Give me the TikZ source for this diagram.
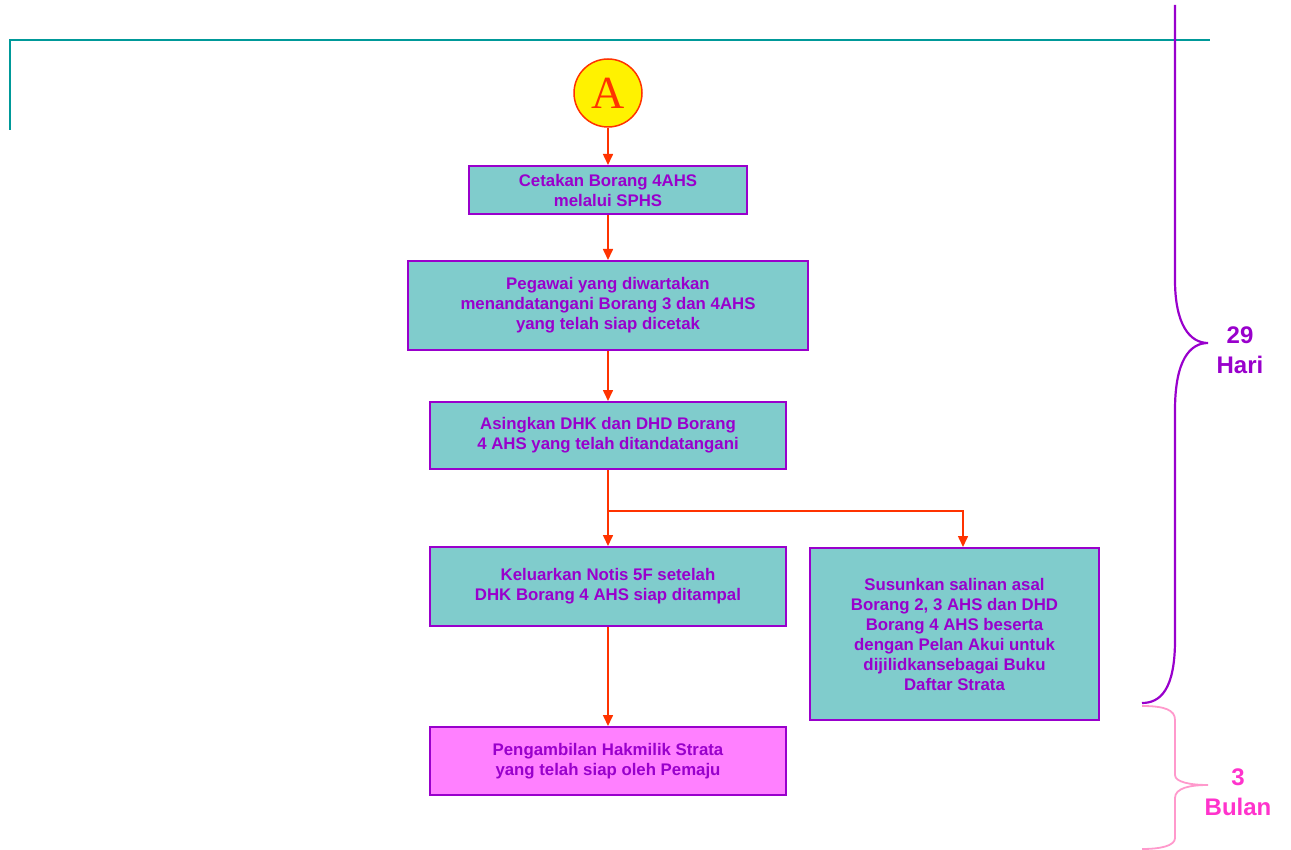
\documentclass[tikz,border=0pt]{standalone}
\usepackage{fontspec}
\setmainfont{Liberation Sans}
\newfontfamily\serifA{Liberation Serif}
\usepackage{tikz}
\usetikzlibrary{arrows.meta}
\definecolor{tealline}{HTML}{009999}
\definecolor{boxfill}{HTML}{80CCCC}
\definecolor{ungu}{HTML}{9900CC}
\definecolor{merah}{HTML}{FF3300}
\definecolor{pinkfill}{HTML}{FF80FF}
\definecolor{pinktext}{HTML}{FF33CC}
\definecolor{pinkbrace}{HTML}{FF99CC}

\begin{document}
\begin{tikzpicture}[x=1pt,y=-1pt,
	box/.style={rectangle,draw=ungu,line width=2pt,fill=boxfill,text=ungu,font=\bfseries\fontsize{16.8}{20}\selectfont,align=center,inner sep=0pt},
	pinkbox/.style={box,fill=pinkfill},
	flow/.style={draw=merah,line width=1.6pt,-{Triangle[length=11pt,width=10pt]}},
	tempoh/.style={font=\bfseries\fontsize{24}{30}\selectfont,align=center}]
	\useasboundingbox (0,0) rectangle (1291,850);

	% Frame line
	\draw[tealline,line width=2.5pt] (10,130) -- (10,40) -- (1210,40);

	% Nodes start here
	\node (A) at (608,93) [circle,draw=merah,line width=1.5pt,fill=yellow,minimum size=68pt,inner sep=0pt,text=merah,font=\serifA\fontsize{46}{46}\selectfont] {A};
	\node (cetak) at (608,190) [box,minimum width=278pt,minimum height=48pt] {Cetakan Borang 4AHS\\melalui SPHS};
	\node (tandatangan) at (608,305.5) [box,minimum width=400pt,minimum height=89pt] {Pegawai yang diwartakan\\menandatangani Borang 3 dan 4AHS\\yang telah siap dicetak};
	\node (asing) at (608,435.5) [box,minimum width=356pt,minimum height=67pt] {Asingkan DHK dan DHD Borang\\4 AHS yang telah ditandatangani};
	\node (notis) at (608,586.5) [box,minimum width=356pt,minimum height=79pt] {Keluarkan Notis 5F setelah\\DHK Borang 4 AHS  siap ditampal};
	\node (susun) at (954.5,634) [box,minimum width=289pt,minimum height=172pt] {Susunkan salinan asal\\Borang 2, 3 AHS  dan DHD\\Borang 4 AHS beserta\\dengan Pelan Akui untuk\\dijilidkansebagai Buku\\Daftar Strata};
	\node (ambil) at (608,761) [pinkbox,minimum width=356pt,minimum height=68pt] {Pengambilan Hakmilik Strata\\yang telah siap oleh Pemaju};
	\coordinate (cabang) at (608,511);

	% Lines start here
	\draw[flow] (A) -- (cetak);
	\draw[flow] (cetak) -- (tandatangan);
	\draw[flow] (tandatangan) -- (asing);
	\draw[flow] (asing) -- (notis);
	\draw[flow] (cabang) -| ([xshift=8.5pt]susun.north);
	\draw[flow] (notis) -- (ambil);

	% Braces
	\draw[ungu,line width=2.2pt] (1175,5) -- (1175,280) .. controls (1175,325) and (1190,343) .. (1208,343)
		.. controls (1190,343) and (1175,360) .. (1175,410) -- (1175,640)
		.. controls (1175,690) and (1160,703) .. (1142,703);
	\draw[pinkbrace,line width=1.8pt] (1142,706) .. controls (1165,706) and (1175,710) .. (1175,720) -- (1175,775)
		.. controls (1175,782) and (1190,785) .. (1208,785)
		.. controls (1190,785) and (1175,788) .. (1175,798) -- (1175,838)
		.. controls (1175,846) and (1160,849) .. (1142,849);
	\node (hari) at (1240,350) [tempoh,text=ungu] {29\\Hari};
	\node (bulan) at (1238,792) [tempoh,text=pinktext] {3\\Bulan};

\end{tikzpicture}
\end{document}
